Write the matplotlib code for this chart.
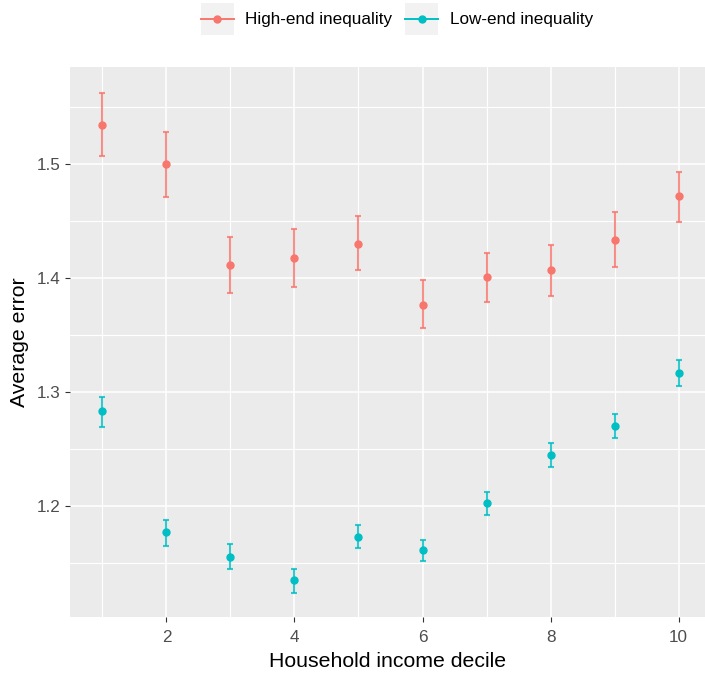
"""Average error by household income decile, high-end vs low-end inequality."""

import matplotlib

matplotlib.use("Agg")  # headless

import matplotlib.pyplot as plt  # noqa: E402
from matplotlib.legend_handler import HandlerLine2D  # noqa: E402
from matplotlib.lines import Line2D  # noqa: E402
from matplotlib.patches import Rectangle  # noqa: E402
from matplotlib.ticker import MultipleLocator  # noqa: E402
import numpy as np  # noqa: E402

# data
deciles = np.arange(1, 11)
high_mean = [1.534, 1.500, 1.411, 1.418, 1.430, 1.376, 1.401, 1.407, 1.433, 1.472]
high_lo = [1.507, 1.471, 1.387, 1.392, 1.407, 1.356, 1.379, 1.384, 1.410, 1.449]
high_hi = [1.562, 1.528, 1.436, 1.443, 1.454, 1.398, 1.422, 1.429, 1.458, 1.493]
low_mean = [1.283, 1.177, 1.155, 1.135, 1.173, 1.161, 1.203, 1.245, 1.270, 1.317]
low_lo = [1.269, 1.165, 1.145, 1.124, 1.163, 1.152, 1.192, 1.234, 1.260, 1.305]
low_hi = [1.296, 1.188, 1.167, 1.145, 1.183, 1.170, 1.212, 1.255, 1.281, 1.328]

series = [
    ("High-end inequality", high_mean, high_lo, high_hi, "#F8766D"),
    ("Low-end inequality", low_mean, low_lo, low_hi, "#00BFC4"),
]

plt.rcParams["font.family"] = ["Liberation Sans", "DejaVu Sans"]


class KeyHandler(HandlerLine2D):
    """ggplot-like legend key: grey square behind line + point."""

    def create_artists(self, legend, orig_handle, xdescent, ydescent,
                       width, height, fontsize, trans):
        bg = Rectangle((-xdescent, -ydescent), width, height,
                       facecolor="#F2F2F2", edgecolor="none", transform=trans)
        arts = super().create_artists(legend, orig_handle, xdescent, ydescent,
                                      width, height, fontsize, trans)
        mid = height / 2 - ydescent
        for a in arts:
            a.set_ydata(np.full(len(a.get_xdata()), mid))
        return [bg] + list(arts)


W, H = 705, 677
fig = plt.figure(figsize=(W / 100, H / 100), dpi=100)
ax = fig.add_axes([70 / W, (H - 616.7) / H, (W - 70) / W, (616.7 - 66.7) / H])
ax.set_facecolor("#EBEBEB")
for s in ax.spines.values():
    s.set_visible(False)

handles = []
for label, m, lo, hi, col in series:
    m = np.array(m)
    yerr = [m - np.array(lo), np.array(hi) - m]
    ax.errorbar(deciles, m, yerr=yerr, fmt="none", ecolor=col, alpha=0.8,
                elinewidth=1.5, capsize=2.3, capthick=1.5, zorder=3)
    ax.plot(deciles, m, "o", color=col, markersize=5, zorder=4)
    handles.append(Line2D([], [], color=col, lw=1.4, marker="o", markersize=5,
                          label=label))

ax.set_xlim(0.495, 10 + (705 - 678.7) / 64)
ax.set_ylim(1.1029, 1.5854)
ax.xaxis.set_major_locator(MultipleLocator(2))
ax.xaxis.set_minor_locator(MultipleLocator(1))
ax.yaxis.set_major_locator(MultipleLocator(0.1))
ax.yaxis.set_minor_locator(MultipleLocator(0.05))
ax.yaxis.set_major_formatter(plt.FormatStrFormatter("%.1f"))
ax.grid(which="major", color="white", lw=1.1)
ax.grid(which="minor", color="white", lw=0.8)
ax.set_axisbelow(True)
ax.tick_params(which="minor", length=0)
ax.tick_params(axis="both", which="major", length=3.6, width=0.8,
               color="#333333", labelcolor="#4D4D4D", labelsize=12.3)
ax.tick_params(axis="x", pad=6.0)
ax.tick_params(axis="y", pad=3.6)

ax.set_xlabel("Household income decile", fontsize=15.3, labelpad=5.0)
ax.set_ylabel("Average error", fontsize=15.3, labelpad=5.5)

fig.legend(handles=handles, loc="center", bbox_to_anchor=(397 / W, 1 - 19 / H),
           ncol=2, frameon=False, fontsize=12.3, handlelength=1.93,
           handleheight=2.55, handletextpad=0.68, columnspacing=0.76,
           borderpad=0, borderaxespad=0,
           handler_map={Line2D: KeyHandler(marker_pad=0.18)})

fig.savefig("out.png", dpi=100, facecolor="white")
